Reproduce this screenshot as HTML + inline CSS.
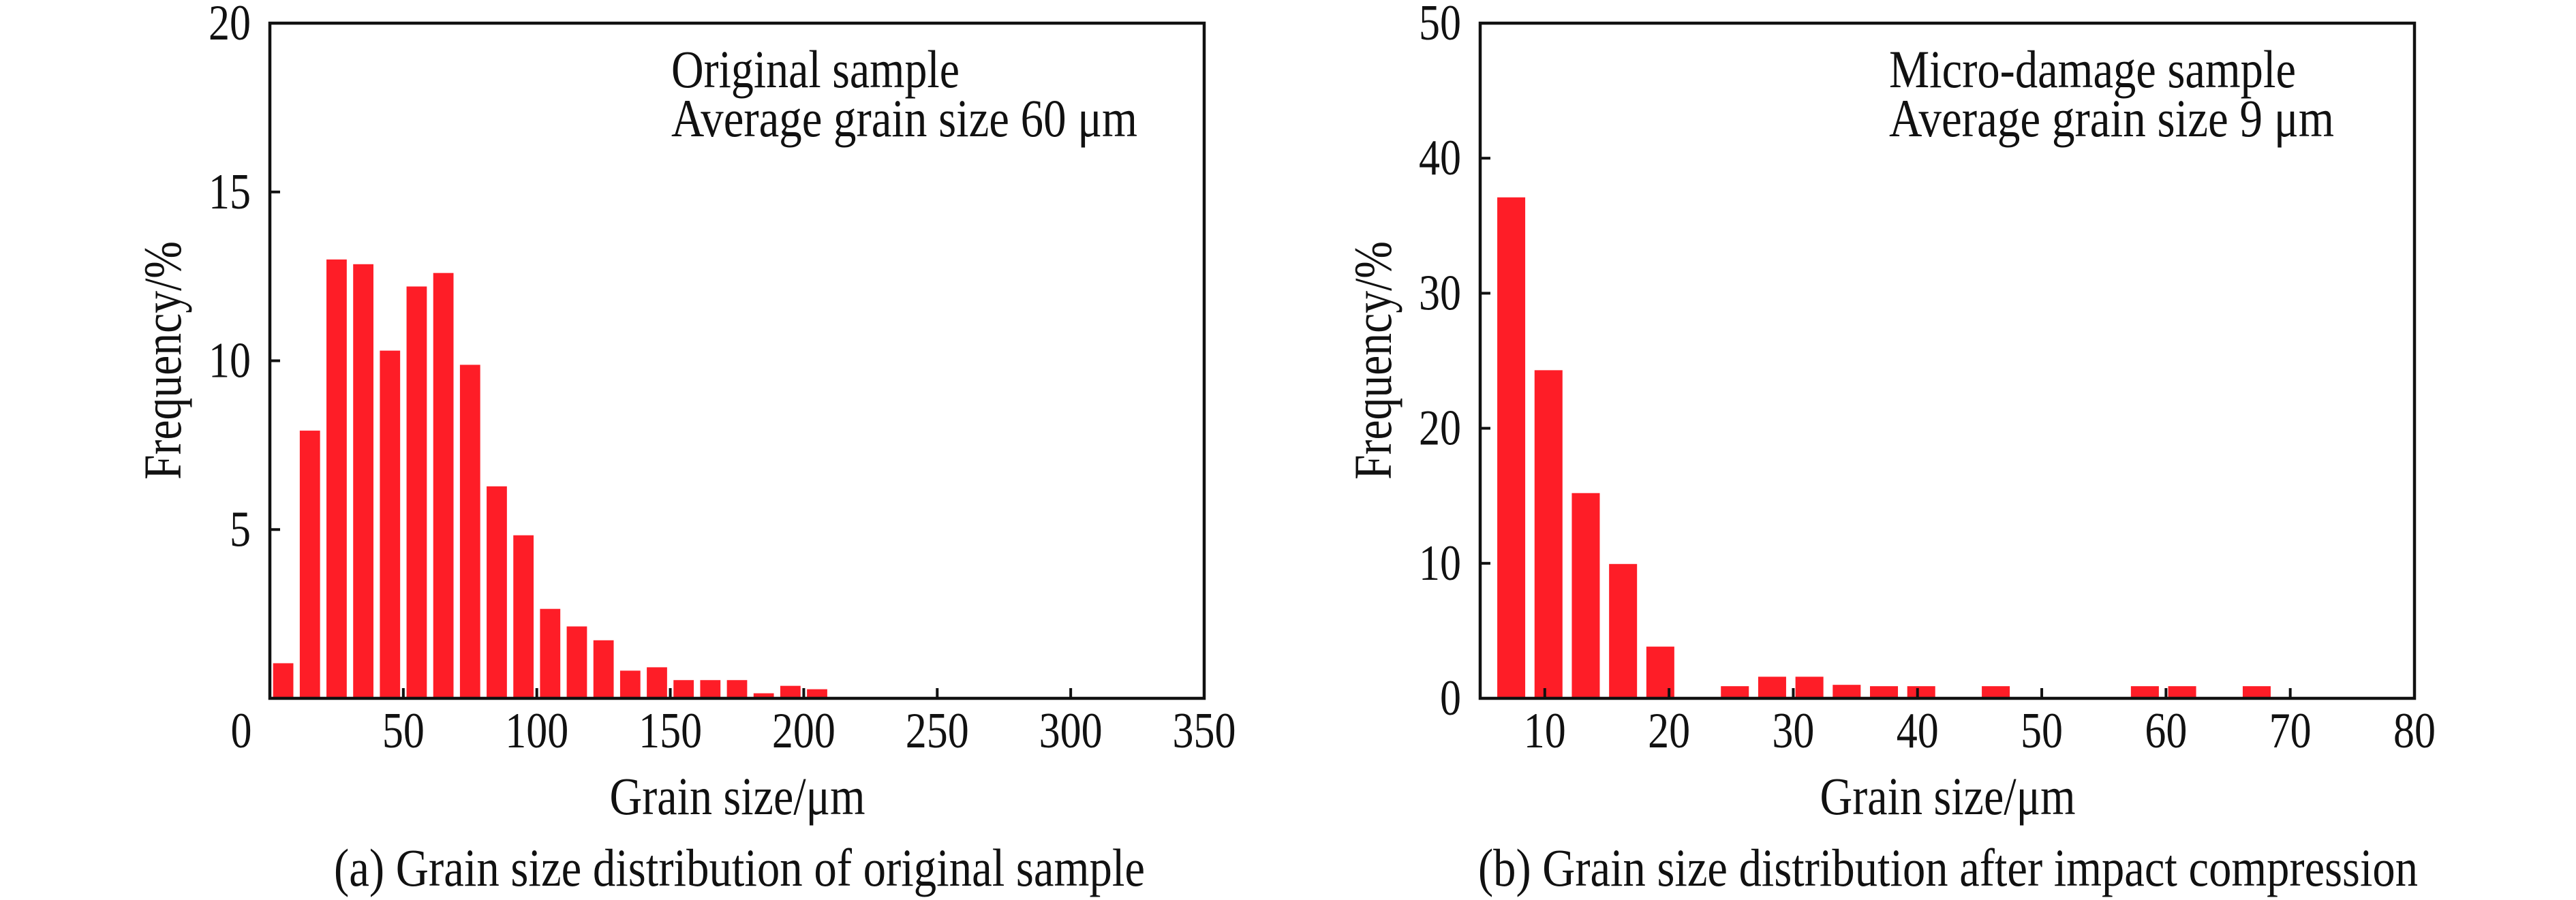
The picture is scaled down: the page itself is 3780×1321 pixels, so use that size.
<!DOCTYPE html>
<html><head><meta charset="utf-8"><style>
html,body{margin:0;padding:0;background:#fff;}
svg{display:block;}
text{font-family:"Liberation Serif",serif;fill:#111;}
</style></head><body>
<svg id="fig" width="3780" height="1321" viewBox="0 0 3780 1321" xmlns="http://www.w3.org/2000/svg"></svg>
<script>
// Panel (a) data
const aCenters=[5,15,25,35,45,55,65,75,85,95,105,115,125,135,145,155,165,175,185,195,205];
const aValues=[1.04,7.93,13.0,12.86,10.3,12.2,12.6,9.88,6.28,4.83,2.65,2.13,1.72,0.82,0.92,0.54,0.54,0.54,0.15,0.37,0.27];
const aXTicks=[0,50,100,150,200,250,300,350];
const aYTicks=[5,10,15,20];
// Panel (b) data
const bCenters=[7.3,10.3,13.3,16.3,19.3,25.3,28.3,31.3,34.3,37.3,40.3,46.3,58.3,61.3,67.3];
const bValues=[37.1,24.3,15.2,9.95,3.83,0.9,1.6,1.6,1.0,0.9,0.9,0.9,0.9,0.9,0.9];
const bXTicks=[10,20,30,40,50,60,70,80];
const bYTicks=[0,10,20,30,40,50];

const NS="http://www.w3.org/2000/svg";
const svg=document.getElementById('fig');
function el(tag,attrs,parent,txt){const e=document.createElementNS(NS,tag);for(const k in attrs)e.setAttribute(k,attrs[k]);if(txt!==undefined)e.textContent=txt;(parent||svg).appendChild(e);return e;}

function panel(o){
  const g=el('g',{});
  
  
  const sx=v=>o.x0+(v-o.xmin)/(o.xmax-o.xmin)*(o.x1-o.x0);
  const sy=v=>o.y1-(v-o.ymin)/(o.ymax-o.ymin)*(o.y1-o.y0);
  o.centers.forEach((c,i)=>{
    const v=o.values[i];
    const r=el('rect',{x:sx(c-o.bw/2),y:sy(v),width:sx(c+o.bw/2)-sx(c-o.bw/2),height:sy(0)-sy(v),fill:'#fe1d27'},g);
    
    
  });
  const f=el('rect',{x:o.x0,y:o.y0,width:o.x1-o.x0,height:o.y1-o.y0,fill:'none',stroke:'#111','stroke-width':4.5},g);
  
  
  o.xticks.forEach(t=>{
    const x=sx(t);
    if(t>o.xmin&&t<o.xmax) el('line',{x1:x,x2:x,y1:o.y1,y2:o.y1-15,stroke:'#111','stroke-width':4},g);
    const lx=(t===o.xmin&&o.zeroX)?o.zeroX:x;
    const s=String(t);
    const tx=el('text',{x:lx,y:1097,'font-size':74,'text-anchor':'middle',textLength:s.length*31,lengthAdjust:'spacingAndGlyphs'},g,s);
    
    
  });
  o.yticks.forEach(t=>{
    const y=sy(t);
    if(t>o.ymin&&t<o.ymax) el('line',{x1:o.x0,x2:o.x0+15,y1:y,y2:y,stroke:'#111','stroke-width':4},g);
    const s=String(t);
    const ty=el('text',{x:o.x0-28,y:y+24,'font-size':74,'text-anchor':'end',textLength:s.length*31,lengthAdjust:'spacingAndGlyphs'},g,s);
    
    
  });
  const a1=el('text',{x:o.annX,y:128,'font-size':78,textLength:o.ann1W,lengthAdjust:'spacingAndGlyphs'},g,o.ann1);
  
  
  const a2=el('text',{x:o.annX,y:200,'font-size':78,textLength:o.ann2W,lengthAdjust:'spacingAndGlyphs'},g,o.ann2);
  
  
  const cx=(o.x0+o.x1)/2;
  const xt=el('text',{x:cx-187,y:1195,'font-size':78,textLength:375,lengthAdjust:'spacingAndGlyphs'},g,'Grain size/μm');
  
  
  const ay=o.x0-156+25;
  const yt=el('text',{x:0,y:0,'font-size':78,textLength:350,lengthAdjust:'spacingAndGlyphs',transform:`translate(${ay},${529+175}) rotate(-90)`},g,'Frequency/%');
  
  
  const cap=el('text',{x:o.capX,y:1300,'font-size':78,textLength:o.capW,lengthAdjust:'spacingAndGlyphs'},g,o.cap);
  
  
}

panel({name:'panel-a-original',x0:396,x1:1767,y0:34,y1:1025,xmin:0,xmax:350,ymin:0,ymax:20,bw:7.6,
  centers:aCenters,values:aValues,xticks:aXTicks,yticks:aYTicks,zeroX:354,
  annX:985,ann1:'Original sample',ann1W:423,ann2:'Average grain size 60 μm',ann2W:684,
  cap:'(a) Grain size distribution of original sample',capX:490,capW:1190});
panel({name:'panel-b-micro-damage',x0:2172,x1:3543,y0:34,y1:1025,xmin:4.8,xmax:80,ymin:0,ymax:50,bw:2.25,
  centers:bCenters,values:bValues,xticks:bXTicks,yticks:bYTicks,
  annX:2772,ann1:'Micro-damage sample',ann1W:597,ann2:'Average grain size 9 μm',ann2W:653,
  cap:'(b) Grain size distribution after impact compression',capX:2169,capW:1379});
</script>
</body></html>
